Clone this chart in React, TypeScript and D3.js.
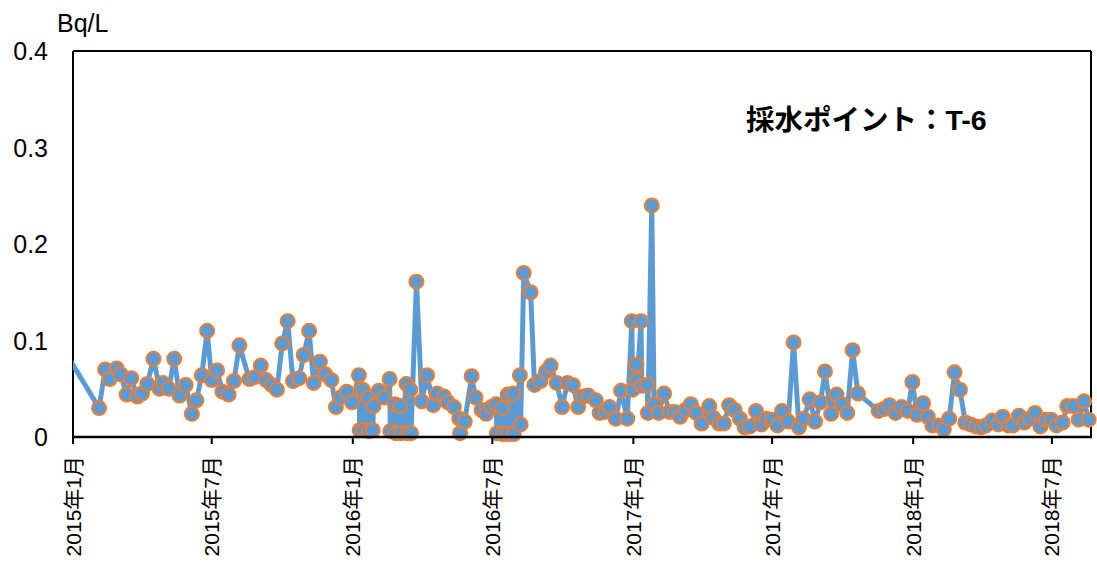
import { scaleTime, scaleLinear, line as d3_line } from "d3";

// samples: [sampling date, Bq/L]
const samples2015: [string, number][] = [
  ["2014-12-25", 0.084], ["2015-02-04", 0.030], ["2015-02-12", 0.070], ["2015-02-18", 0.060],
  ["2015-02-27", 0.071], ["2015-03-04", 0.065], ["2015-03-12", 0.044], ["2015-03-18", 0.061],
  ["2015-03-26", 0.042], ["2015-04-01", 0.045], ["2015-04-08", 0.055], ["2015-04-16", 0.081],
  ["2015-04-24", 0.050], ["2015-04-28", 0.056], ["2015-05-06", 0.050], ["2015-05-13", 0.081],
  ["2015-05-20", 0.043], ["2015-05-28", 0.054], ["2015-06-05", 0.024], ["2015-06-11", 0.038],
  ["2015-06-18", 0.064], ["2015-06-25", 0.110], ["2015-07-01", 0.059], ["2015-07-08", 0.069],
  ["2015-07-15", 0.047], ["2015-07-23", 0.044], ["2015-07-30", 0.058], ["2015-08-06", 0.095],
  ["2015-08-19", 0.060], ["2015-08-26", 0.062], ["2015-09-03", 0.074], ["2015-09-10", 0.059],
  ["2015-09-17", 0.054], ["2015-09-24", 0.049], ["2015-10-01", 0.097], ["2015-10-08", 0.120],
  ["2015-10-15", 0.058], ["2015-10-23", 0.061], ["2015-10-29", 0.085], ["2015-11-05", 0.110],
  ["2015-11-11", 0.056], ["2015-11-19", 0.078], ["2015-11-26", 0.065], ["2015-12-04", 0.059],
  ["2015-12-10", 0.031], ["2015-12-16", 0.041], ["2015-12-24", 0.047], ["2015-12-31", 0.036],
];

const samples2016: [string, number][] = [
  ["2016-01-09", 0.064], ["2016-01-10", 0.007], ["2016-01-14", 0.049], ["2016-01-15", 0.007],
  ["2016-01-21", 0.041], ["2016-01-22", 0.006], ["2016-01-27", 0.007], ["2016-01-28", 0.032],
  ["2016-02-04", 0.048], ["2016-02-11", 0.041], ["2016-02-18", 0.060], ["2016-02-19", 0.006],
  ["2016-02-25", 0.034], ["2016-02-26", 0.004], ["2016-03-03", 0.032], ["2016-03-04", 0.004],
  ["2016-03-11", 0.055], ["2016-03-12", 0.004], ["2016-03-16", 0.049], ["2016-03-17", 0.004],
  ["2016-03-24", 0.161], ["2016-03-31", 0.037], ["2016-04-07", 0.064], ["2016-04-15", 0.033],
  ["2016-04-20", 0.045], ["2016-04-29", 0.042], ["2016-05-04", 0.036], ["2016-05-12", 0.031],
  ["2016-05-19", 0.019], ["2016-05-20", 0.004], ["2016-05-26", 0.016], ["2016-06-04", 0.063],
  ["2016-06-09", 0.041], ["2016-06-17", 0.028], ["2016-06-23", 0.024], ["2016-06-30", 0.031],
  ["2016-07-06", 0.034], ["2016-07-07", 0.004], ["2016-07-14", 0.030], ["2016-07-15", 0.003],
  ["2016-07-21", 0.044], ["2016-07-22", 0.003], ["2016-07-28", 0.045], ["2016-07-29", 0.003],
  ["2016-08-06", 0.064], ["2016-08-07", 0.013], ["2016-08-11", 0.170], ["2016-08-20", 0.150],
  ["2016-08-25", 0.054], ["2016-09-02", 0.058], ["2016-09-09", 0.068], ["2016-09-15", 0.074],
  ["2016-09-23", 0.056], ["2016-09-30", 0.031], ["2016-10-07", 0.056], ["2016-10-14", 0.054],
  ["2016-10-21", 0.031], ["2016-10-27", 0.042], ["2016-11-03", 0.043], ["2016-11-13", 0.038],
  ["2016-11-18", 0.025], ["2016-11-25", 0.026], ["2016-12-01", 0.031], ["2016-12-09", 0.019],
  ["2016-12-16", 0.048], ["2016-12-24", 0.019], ["2016-12-30", 0.120], ["2016-12-31", 0.049],
];

const samples2017: [string, number][] = [
  ["2017-01-05", 0.075], ["2017-01-06", 0.059], ["2017-01-11", 0.120], ["2017-01-12", 0.053],
  ["2017-01-19", 0.054], ["2017-01-20", 0.025], ["2017-01-25", 0.240], ["2017-01-28", 0.034],
  ["2017-02-03", 0.025], ["2017-02-10", 0.045], ["2017-02-17", 0.026], ["2017-02-24", 0.026],
  ["2017-03-03", 0.021], ["2017-03-10", 0.028], ["2017-03-17", 0.034], ["2017-03-24", 0.025],
  ["2017-03-31", 0.014], ["2017-04-10", 0.032], ["2017-04-15", 0.020], ["2017-04-23", 0.014],
  ["2017-04-29", 0.014], ["2017-05-06", 0.033], ["2017-05-13", 0.028], ["2017-05-20", 0.019],
  ["2017-05-26", 0.010], ["2017-06-02", 0.011], ["2017-06-10", 0.027], ["2017-06-17", 0.013],
  ["2017-06-23", 0.019], ["2017-07-01", 0.018], ["2017-07-08", 0.012], ["2017-07-14", 0.027],
  ["2017-07-22", 0.016], ["2017-07-29", 0.098], ["2017-08-05", 0.010], ["2017-08-11", 0.019],
  ["2017-08-19", 0.039], ["2017-08-26", 0.016], ["2017-09-02", 0.036], ["2017-09-08", 0.068],
  ["2017-09-16", 0.024], ["2017-09-23", 0.044], ["2017-09-30", 0.034], ["2017-10-07", 0.025],
  ["2017-10-14", 0.090], ["2017-10-21", 0.045], ["2017-11-17", 0.027], ["2017-11-24", 0.029],
  ["2017-12-01", 0.033], ["2017-12-09", 0.025], ["2017-12-17", 0.031], ["2017-12-25", 0.027],
  ["2017-12-31", 0.057],
];

const samples2018: [string, number][] = [
  ["2018-01-06", 0.023], ["2018-01-14", 0.035], ["2018-01-20", 0.021], ["2018-01-26", 0.012],
  ["2018-02-04", 0.012], ["2018-02-10", 0.008], ["2018-02-17", 0.019], ["2018-02-24", 0.067],
  ["2018-03-03", 0.049], ["2018-03-10", 0.015], ["2018-03-17", 0.013], ["2018-03-24", 0.011],
  ["2018-03-31", 0.010], ["2018-04-06", 0.012], ["2018-04-14", 0.017], ["2018-04-22", 0.013],
  ["2018-04-28", 0.021], ["2018-05-05", 0.012], ["2018-05-11", 0.012], ["2018-05-19", 0.022],
  ["2018-05-26", 0.015], ["2018-06-02", 0.019], ["2018-06-09", 0.025], ["2018-06-16", 0.011],
  ["2018-06-23", 0.018], ["2018-06-30", 0.018], ["2018-07-07", 0.012], ["2018-07-15", 0.015],
  ["2018-07-21", 0.032], ["2018-07-29", 0.032], ["2018-08-05", 0.018], ["2018-08-12", 0.037],
  ["2018-08-18", 0.018],
];

const xTickDates = ["2015-01-01", "2015-07-01", "2016-01-01", "2016-07-01", "2017-01-01", "2017-07-01", "2018-01-01", "2018-07-01"];
const xTickLabels = ["2015年1月", "2015年7月", "2016年1月", "2016年7月", "2017年1月", "2017年7月", "2018年1月", "2018年7月"];
const yTicks = [0, 0.1, 0.2, 0.3, 0.4];
const yTickLabels = ["0", "0.1", "0.2", "0.3", "0.4"];

const parse = (s: string) => new Date(s + "T00:00:00");

const W = 1097;
const H = 564;
const left = 73;
const right = 1091;
const top = 51;
const bottom = 437;

const FONT = "'Liberation Sans', 'Noto Sans CJK JP', sans-serif";

export default function App() {
  const data = [...samples2015, ...samples2016, ...samples2017, ...samples2018].map(([d, v]) => ({
    date: parse(d),
    value: v,
  }));

  const x = scaleTime().domain([parse("2015-01-01"), parse("2018-08-21")]).range([left, right]);
  const y = scaleLinear().domain([0, 0.4]).range([bottom, top]);

  const path = d3_line<{ date: Date; value: number }>()
    .x((d) => x(d.date))
    .y((d) => y(d.value))(data);

  // the first sample lies before the axis start; only its line segment shows
  const visible = data.filter((d) => d.date >= x.domain()[0]);

  return (
    <svg
      width={W}
      height={H}
      viewBox={`0 0 ${W} ${H}`}
      style={{ position: "absolute", left: 0, top: 0, background: "#fff" }}
      fontFamily={FONT}
    >
      <defs>
        <clipPath id="plot">
          <rect x={left} y={0} width={right - left} height={bottom} />
        </clipPath>
      </defs>

      {/* unit */}
      <text x={57} y={32} fontSize={25} fill="#000">Bq/L</text>

      {/* y labels */}
      {yTicks.map((t, i) => (
        <text key={i} x={48} y={y(t)} fontSize={25} textAnchor="end" dominantBaseline="central" fill="#000">
          {yTickLabels[i]}
        </text>
      ))}

      {/* frame */}
      <line x1={left} x2={right} y1={top} y2={top} stroke="#000" strokeWidth={2} />
      <line x1={right} x2={right} y1={top} y2={bottom} stroke="#000" strokeWidth={2} />
      <line x1={left} x2={left} y1={top} y2={bottom} stroke="#000" strokeWidth={2} />

      {/* series */}
      <path d={path ?? ""} fill="none" stroke="#5B9BD5" strokeWidth={5} strokeLinejoin="round" clipPath="url(#plot)" />
      {visible.map((d, i) => (
        <circle key={i} cx={x(d.date)} cy={y(d.value)} r={7} fill="#5B9BD5" stroke="#ED7D31" strokeWidth={2} />
      ))}

      {/* x axis */}
      <line x1={left - 1} x2={right + 1} y1={bottom} y2={bottom} stroke="#000" strokeWidth={2.5} />
      {xTickDates.map((d, i) => {
        const tx = x(parse(d));
        return (
          <g key={i}>
            <line x1={tx} x2={tx} y1={bottom} y2={bottom + 7} stroke="#000" strokeWidth={2} />
            <text
              transform={`translate(${tx},456) rotate(-90)`}
              fontSize={21}
              textAnchor="end"
              dominantBaseline="central"
              fill="#000"
            >
              {xTickLabels[i]}
            </text>
          </g>
        );
      })}

      {/* title */}
      <text x={746} y={130} fontSize={28.5} fontWeight="bold" fill="#000">採水ポイント：T-6</text>
    </svg>
  );
}
